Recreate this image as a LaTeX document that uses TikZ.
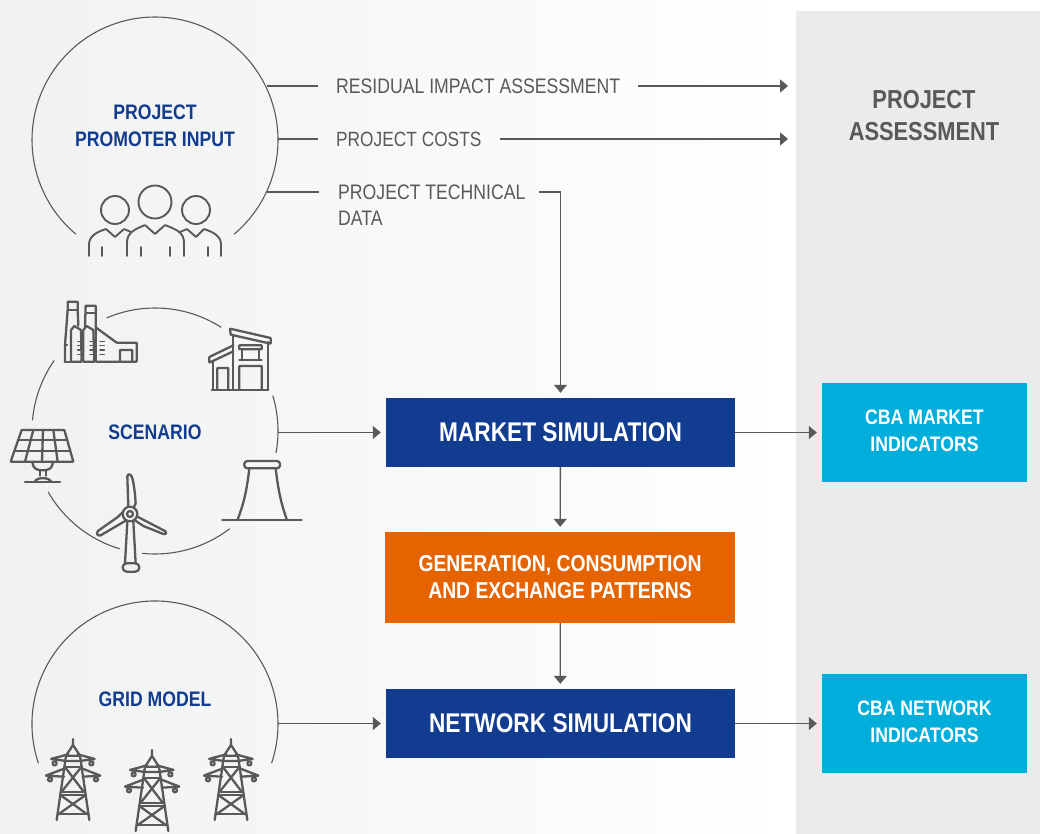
\documentclass[tikz,border=0pt]{standalone}
\usepackage{fontspec}
\setmainfont[FakeStretch=0.84]{Liberation Sans}
\usetikzlibrary{arrows.meta}
\definecolor{inkgray}{HTML}{595959}
\definecolor{panelgray}{HTML}{EBEBEB}
\definecolor{leftgray}{HTML}{F0F1F1}
\definecolor{midgray}{HTML}{F5F5F5}
\definecolor{darkblue}{HTML}{123C8F}
\definecolor{lightblue}{HTML}{00AEDB}
\definecolor{burnt}{HTML}{E66400}
\tikzset{
  ring/.style={draw=inkgray,line width=1.1pt},
  conn/.style={draw=inkgray,line width=1.3pt},
  arrowconn/.style={conn,-{Triangle[length=8pt,width=13pt]},shorten >=5pt},
  icon/.style={draw=inkgray,line width=2.3pt,line join=round,line cap=round,rounded corners=0.5pt},
  circlelabel/.style={text=darkblue,font=\bfseries\fontsize{21}{27}\selectfont,align=center},
  flowlabel/.style={text=inkgray,font=\fontsize{21}{26}\selectfont,align=left,inner xsep=18pt,inner ysep=0pt},
  simbox/.style={fill=darkblue,text=white,font=\bfseries\fontsize{27}{30}\selectfont,minimum width=349pt,minimum height=69pt,inner sep=0pt,align=center},
  patternbox/.style={fill=burnt,text=white,font=\bfseries\fontsize{23}{27}\selectfont,minimum width=350pt,minimum height=91pt,inner sep=0pt,align=center},
  cbabox/.style={fill=lightblue,text=white,font=\bfseries\fontsize{21}{27}\selectfont,minimum width=205pt,minimum height=99pt,inner sep=0pt,align=center},
}
\begin{document}
\begin{tikzpicture}[x=1pt,y=-1pt]
      \useasboundingbox (0,0) rectangle (1040,834);
      \fill[white] (0,0) rectangle (1040,834);
      \shade[left color=leftgray,middle color=midgray,right color=white] (0,0) rectangle (795,834);
      \fill[panelgray] (796,11) rectangle (1040,834);

      % circles
      \draw[ring] (155,140) ++(130:123) arc (130:410:123);
      \draw[ring] (155,431) ++(246.8:123) arc (246.8:302.6:123);
      \draw[ring] (155,431) ++(-16.7:123) arc (-16.7:10.3:123);
      \draw[ring] (155,431) ++(52.6:123) arc (52.6:96:123);
      \draw[ring] (155,431) ++(106.7:123) arc (106.7:150.3:123);
      \draw[ring] (155,431) ++(185:123) arc (185:215:123);
      \draw[ring] (155,724) ++(161.4:123) arc (161.4:378.6:123);

      \coordinate (promoterA) at (267,86);
      \coordinate (promoterB) at (278,139);
      \coordinate (promoterC) at (267,192);
      \coordinate (techIn) at (319,192);
      \coordinate (scenarioOut) at (278,432.5);
      \coordinate (gridOut) at (278,723.5);
      \coordinate (residualEnd) at (793,86);
      \coordinate (costsEnd) at (793,139);
      \coordinate (techOut) at (539,192);

      \node[circlelabel] (promoter) at (155,126) {PROJECT\\PROMOTER INPUT};
      \node[circlelabel] (scenario) at (155,432) {SCENARIO};
      \node[circlelabel] (gridmodel) at (155,699) {GRID MODEL};

      \node[flowlabel,anchor=west] (residual) at (318,86) {RESIDUAL IMPACT ASSESSMENT};
      \node[flowlabel,anchor=west,font=\fontsize{20.6}{26}\selectfont] (costs) at (318,139) {PROJECT COSTS};
      \node[flowlabel,anchor=north west] (tech) at (320,185) {PROJECT TECHNICAL\\DATA};

      \node[simbox] (market) at (560.5,432.5) {MARKET SIMULATION};
      \node[patternbox] (patterns) at (560,577.5) {GENERATION, CONSUMPTION\\AND EXCHANGE PATTERNS};
      \node[simbox] (network) at (560.5,723.5) {NETWORK SIMULATION};
      \node[cbabox] (cbamarket) at (924.5,432.5) {CBA MARKET\\INDICATORS\\[-23pt]};
      \node[cbabox] (cbanetwork) at (924.5,723.5) {CBA NETWORK\\INDICATORS\\[-23pt]};
      \node[text=inkgray,font=\bfseries\fontsize{26}{32}\selectfont,align=center] (assessment) at (924,116) {PROJECT\\ASSESSMENT};

      \draw[conn] (promoterA) -- (residual);
      \draw[conn] (promoterB) -- (costs);
      \draw[conn] (promoterC) -- (techIn);
      \draw[arrowconn] (residual) -- (residualEnd);
      \draw[arrowconn] (costs) -- (costsEnd);
      \draw[arrowconn] (techOut) -| (market);
      \draw[arrowconn] (scenarioOut) -- (market);
      \draw[arrowconn] (gridOut) -- (network);
      \draw[arrowconn] (market) -- (cbamarket);
      \draw[arrowconn] (network) -- (cbanetwork);
      \draw[arrowconn] (market) -- (patterns);
      \draw[arrowconn] (patterns) -- (network);

      % people
      \begin{scope}[icon/.append style={line width=1.9pt}]
        \draw[icon] (155,202) circle (16.5);
        \draw[icon] (115,210) circle (14);
        \draw[icon] (196,210) circle (14);
        \draw[icon] (127,256) -- (127,243) .. controls (127,232) and (136,229) .. (145,225) -- (155,234) -- (165,225) .. controls (175,229) and (184,232) .. (184,243) -- (184,256);
        \draw[icon] (89,256) -- (89,245) .. controls (89,236) and (97,232) .. (106,229) -- (115,237) -- (124,229) -- (131,232);
        \draw[icon] (221,256) -- (221,245) .. controls (221,236) and (213,232) .. (204,229) -- (196,237) -- (187,229) -- (180,232);
        \foreach \px in {102,141,170,208} \draw[icon] (\px,247) -- (\px,256);
      \end{scope}

      % factory
      \begin{scope}[shift={(55,295)},scale=1/3]
        \draw[icon] (30,200) -- (30,150) -- (38,45) -- (38,20) -- (68,20) -- (68,45) -- (70,92);
        \draw[icon] (38,45) -- (68,45);
        \draw[icon] (30,150) -- (36,150);
        \draw[icon] (30,200) -- (44,200);
        \draw[icon] (48,200) -- (48,105) -- (58,93) -- (78,105) -- (80,200) -- (48,200);
        \draw[icon] (85,200) -- (85,105) -- (95,93) -- (115,105) -- (118,200) -- (85,200);
        \draw[icon] (90,95) -- (92,32) -- (122,32) -- (122,95);
        \draw[icon] (92,55) -- (122,55);
        \draw[icon] (122,200) -- (122,97) -- (185,143) -- (245,143) -- (245,200) -- cycle;
        \draw[icon] (195,200) -- (195,165) -- (232,165) -- (232,200);
        \foreach \wy in {140,152,165,178} {
          \draw[icon,line width=1.6pt] (68,\wy) -- (78,\wy);
          \draw[icon,line width=1.6pt] (105,\wy) -- (115,\wy);
          \draw[icon,line width=1.6pt] (135,\wy) -- (148,\wy);
        }
      \end{scope}

      % house
      \begin{scope}[shift={(200,322)},scale=1/3]
        \draw[icon] (90,20) -- (212,48) -- (212,65) -- (92,38) -- cycle;
        \draw[icon] (100,70) -- (28,105) -- (28,122) -- (100,88);
        \draw[icon] (100,38) -- (100,203);
        \draw[icon] (203,60) -- (203,203);
        \draw[icon] (38,120) -- (38,203);
        \draw[icon] (35,203) -- (205,203);
        \draw[icon] (52,203) -- (52,138) -- (85,138) -- (85,203);
        \draw[icon] (118,203) -- (118,132) -- (185,132) -- (185,203);
        \draw[icon] (118,70) -- (185,70) -- (185,82) -- (118,82) -- cycle;
        \draw[icon] (125,82) -- (125,115);
        \draw[icon] (178,82) -- (178,115);
        \draw[icon] (118,115) -- (185,115);
      \end{scope}

      % solar panel
      \begin{scope}[shift={(5,425)},scale=1/3]
        \draw[icon] (50,15) -- (178,15) -- (205,110) -- (17,110) -- cycle;
        \draw[icon] (41,45) -- (187,45);
        \draw[icon] (29,78) -- (196,78);
        \draw[icon] (85,15) -- (60,110);
        \draw[icon] (114,15) -- (111,110);
        \draw[icon] (145,15) -- (158,110);
        \draw[icon] (82,112) .. controls (84,130) and (95,136) .. (113,136) .. controls (131,136) and (142,130) .. (144,112);
        \draw[icon] (105,136) -- (105,152);
        \draw[icon] (123,136) -- (123,152);
        \draw[icon] (90,170) .. controls (93,156) and (133,156) .. (138,170);
        \draw[icon] (60,172) -- (165,172);
      \end{scope}

      % wind turbine
      \begin{scope}[shift={(90,470)},scale=1/3]
        \draw[icon] (120,132) circle (22);
        \draw[icon] (120,132) circle (9);
        \draw[icon] (115,110) -- (112,20) .. controls (113,10) and (122,12) .. (126,22) .. controls (132,40) and (136,80) .. (137,100) -- (131,113);
        \draw[icon] (100,125) -- (82,142) -- (25,182) .. controls (18,190) and (22,198) .. (32,196) -- (107,152);
        \draw[icon] (142,140) -- (225,183) .. controls (232,188) and (228,194) .. (220,192) -- (160,168) -- (133,150);
        \draw[icon] (112,155) -- (105,280);
        \draw[icon] (130,155) -- (137,280);
        \draw[icon,rounded corners=4pt] (98,280) rectangle (148,305);
      \end{scope}

      % cooling tower
      \begin{scope}[shift={(215,455)},scale=1/3]
        \draw[icon,rounded corners=3pt] (88,18) rectangle (195,40);
        \draw[icon] (103,40) .. controls (95,110) and (85,150) .. (68,193);
        \draw[icon] (182,40) .. controls (190,110) and (200,150) .. (215,193);
        \draw[icon] (22,195) -- (260,195);
      \end{scope}

      % pylons
      \foreach \dx/\dy in {0/0,79/11,158/0} {
        \begin{scope}[shift={(40+\dx,735+\dy)},scale=1/3]
          \draw[icon] (99,12) -- (99,30) -- (78,62) -- (120,62) -- (99,30);
          \draw[icon] (85,58) -- (32,72) -- (80,78) -- (118,78) -- (165,72) -- (113,58);
          \draw[icon] (75,100) -- (17,122) -- (72,125);
          \draw[icon] (125,100) -- (182,122) -- (128,125);
          \draw[icon] (44,85) circle (6);
          \draw[icon] (154,85) circle (6);
          \draw[icon] (30,133) circle (6);
          \draw[icon] (168,133) circle (6);
          \draw[icon] (78,62) -- (50,255);
          \draw[icon] (120,62) -- (148,255);
          \draw[icon] (74,95) -- (125,95);
          \draw[icon] (74,95) -- (131,170) (125,95) -- (65,170);
          \draw[icon] (65,172) -- (133,172);
          \draw[icon] (61,180) -- (137,180);
          \draw[icon] (61,180) -- (142,238) (137,180) -- (55,238);
          \draw[icon] (55,238) -- (142,238);
        \end{scope}
      }
\end{tikzpicture}
\end{document}
